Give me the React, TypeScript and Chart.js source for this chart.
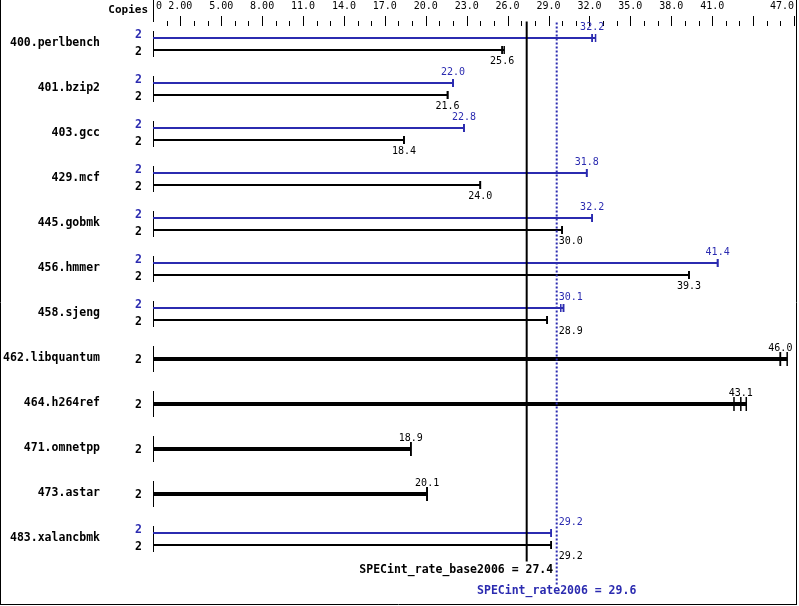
import React, { useEffect, useRef } from 'react';
import { Chart, registerables } from 'chart.js';

Chart.register(...registerables);

// ---- data ----
const benchmarks = [
  '400.perlbench', '401.bzip2', '403.gcc', '429.mcf', '445.gobmk', '456.hmmer',
  '458.sjeng', '462.libquantum', '464.h264ref', '471.omnetpp', '473.astar', '483.xalancbmk',
];
const baseCopies = [2, 2, 2, 2, 2, 2, 2, 2, 2, 2, 2, 2];
const peakCopies = [2, 2, 2, 2, 2, 2, 2, null, null, null, null, 2];
const baseRatios = [25.6, 21.6, 18.4, 24.0, 30.0, 39.3, 28.9, 46.0, 43.1, 18.9, 20.1, 29.2];
const peakRatios = [32.2, 22.0, 22.8, 31.8, 32.2, 41.4, 30.1, null, null, null, null, 29.2];
const baseRuns: number[][] = [
  [25.6, 25.6, 25.75], [21.6, 21.6, 21.6], [18.4, 18.4, 18.4], [24.0, 24.0, 24.0],
  [30.0, 30.0, 30.0], [39.3, 39.3, 39.3], [28.9, 28.9, 28.9], [46.0, 46.0, 46.5],
  [42.6, 43.1, 43.5], [18.9, 18.9, 18.9], [20.1, 20.1, 20.1], [29.2, 29.2, 29.2],
];
const peakRuns: (number[] | null)[] = [
  [32.2, 32.2, 32.45], [22.0, 22.0, 22.0], [22.8, 22.8, 22.8], [31.8, 31.8, 31.8],
  [32.2, 32.2, 32.2], [41.4, 41.4, 41.4], [29.9, 30.1, 30.1], null, null, null, null,
  [29.2, 29.2, 29.2],
];
const baseOverall = 27.4;
const peakOverall = 29.6;
const baseMetricLabel = 'SPECint_rate_base2006';
const peakMetricLabel = 'SPECint_rate2006';
const copiesTitle = 'Copies';
const axisMin = 0;
const axisMax = 47;
const axisLabelValues = [0, 2, 5, 8, 11, 14, 17, 20, 23, 26, 29, 32, 35, 38, 41, 47];
const axisLabelTexts = ['0', '2.00', '5.00', '8.00', '11.0', '14.0', '17.0', '20.0', '23.0', '26.0', '29.0', '32.0', '35.0', '38.0', '41.0', '47.0'];
const majorTickValues = [2, 5, 8, 11, 14, 17, 20, 23, 26, 29, 32, 35, 38, 41, 44, 47];

// ---- styles ----
const BLUE = '#2b2bb0';
const BLACK = '#000000';
const MONO = "'DejaVu Sans Mono', 'Liberation Mono', monospace";
const ROW_PX = 45;
const SUB = 6 / ROW_PX;

const hasPeak = (i: number) => peakRatios[i] != null;
const baseY = (i: number) => (hasPeak(i) ? i + SUB : i);
const peakY = (i: number) => i - SUB;

function buildDatasets() {
  const ds: any[] = [];
  benchmarks.forEach((_, i) => {
    const thick = !hasPeak(i);
    const yb = baseY(i);
    const bRuns = baseRuns[i];
    ds.push({
      data: [{ x: 0, y: yb }, { x: Math.max(...bRuns), y: yb }],
      showLine: true, borderColor: BLACK, borderWidth: thick ? 4 : 2,
      borderCapStyle: 'butt', pointRadius: 0,
    });
    ds.push({
      data: bRuns.map((v) => ({ x: v, y: yb })),
      showLine: false, pointStyle: 'line', pointRotation: 90,
      pointRadius: thick ? 7 : 4, pointBorderWidth: 1.5,
      pointBorderColor: BLACK, pointBackgroundColor: BLACK,
    });
    const pRuns = peakRuns[i];
    if (hasPeak(i) && pRuns) {
      const yp = peakY(i);
      ds.push({
        data: [{ x: 0, y: yp }, { x: Math.max(...pRuns), y: yp }],
        showLine: true, borderColor: BLUE, borderWidth: 2,
        borderCapStyle: 'butt', pointRadius: 0,
      });
      ds.push({
        data: pRuns.map((v) => ({ x: v, y: yp })),
        showLine: false, pointStyle: 'line', pointRotation: 90,
        pointRadius: 4, pointBorderWidth: 1.5,
        pointBorderColor: BLUE, pointBackgroundColor: BLUE,
      });
    }
  });
  return ds;
}

function line(ctx: CanvasRenderingContext2D, x1: number, y1: number, x2: number, y2: number) {
  ctx.beginPath();
  ctx.moveTo(x1, y1);
  ctx.lineTo(x2, y2);
  ctx.stroke();
}

const decor = {
  id: 'decor',
  beforeDatasetsDraw(chart: any) {
    const ctx: CanvasRenderingContext2D = chart.ctx;
    const xs = chart.scales.x;
    const ys = chart.scales.y;
    const x0 = Math.round(xs.getPixelForValue(axisMin)) + 0.5;
    ctx.save();
    ctx.strokeStyle = BLACK;
    ctx.lineWidth = 1;
    // top axis
    line(ctx, x0, 0, x0, 22);
    for (let v = Math.ceil(xs.min); v <= xs.max; v++) {
      if (v === axisMin) continue;
      const px = Math.round(xs.getPixelForValue(v)) + 0.5;
      const major = majorTickValues.includes(v);
      line(ctx, px, major ? 16 : 21, px, 26);
    }
    ctx.font = `10px ${MONO}`;
    ctx.fillStyle = BLACK;
    ctx.textBaseline = 'middle';
    axisLabelValues.forEach((v, k) => {
      const px = xs.getPixelForValue(v);
      const t = axisLabelTexts[k];
      const w = ctx.measureText(t).width;
      let left = px - w / 2;
      if (v === axisMin) left = px + 3;
      if (left + w > xs.right) left = xs.right - w;
      ctx.textAlign = 'left';
      ctx.fillText(t, left, 6);
    });
    ctx.font = `bold 11px ${MONO}`;
    ctx.textAlign = 'right';
    ctx.fillText(copiesTitle, 148, 10);
    // row axis segments
    benchmarks.forEach((_, i) => {
      const cy = ys.getPixelForValue(i);
      line(ctx, x0, cy - 13, x0, cy + 13);
    });
    // frame
    line(ctx, 0.5, 0, 0.5, 605);
    line(ctx, 796.5, 0, 796.5, 605);
    line(ctx, 0, 604.5, 797, 604.5);
    ctx.restore();
  },
  afterDatasetsDraw(chart: any) {
    const ctx: CanvasRenderingContext2D = chart.ctx;
    const xs = chart.scales.x;
    const ys = chart.scales.y;
    const area = chart.chartArea;
    const xb = xs.getPixelForValue(baseOverall);
    const xp = xs.getPixelForValue(peakOverall);
    ctx.save();
    // reference lines
    ctx.lineWidth = 2;
    ctx.strokeStyle = BLACK;
    line(ctx, xb, area.top, xb, area.bottom);
    ctx.strokeStyle = BLUE;
    ctx.setLineDash([2, 2]);
    line(ctx, xp, area.top + 1, xp, area.bottom + 23);
    ctx.setLineDash([]);

    // left labels
    ctx.textBaseline = 'middle';
    benchmarks.forEach((name, i) => {
      const cy = ys.getPixelForValue(i);
      ctx.font = `bold 11.5px ${MONO}`;
      ctx.fillStyle = BLACK;
      ctx.textAlign = 'right';
      ctx.fillText(name, 100, cy - 1);
      ctx.textAlign = 'center';
      if (hasPeak(i)) {
        ctx.fillStyle = BLUE;
        ctx.fillText(String(peakCopies[i]), 138.5, cy - 8.5);
        ctx.fillStyle = BLACK;
        ctx.fillText(String(baseCopies[i]), 138.5, cy + 8.5);
      } else {
        ctx.fillText(String(baseCopies[i]), 138.5, cy + 1);
      }
    });

    // value labels
    ctx.font = `10px ${MONO}`;
    ctx.textAlign = 'left';
    const drawVal = (v: number, y: number, color: string) => {
      const t = v.toFixed(1);
      const w = ctx.measureText(t).width;
      const px = xs.getPixelForValue(v);
      let left = px - w / 2;
      if ([xb, xp].some((r) => r > left - 2 && r < left + w + 2)) left = Math.max(xb, xp) + 2;
      ctx.fillStyle = color;
      ctx.fillText(t, left, y);
    };
    benchmarks.forEach((_, i) => {
      if (hasPeak(i)) {
        drawVal(peakRatios[i] as number, ys.getPixelForValue(peakY(i)) - 11, BLUE);
        drawVal(baseRatios[i], ys.getPixelForValue(baseY(i)) + 11, BLACK);
      } else {
        drawVal(baseRatios[i], ys.getPixelForValue(baseY(i)) - 11, BLACK);
      }
    });

    // overall labels
    ctx.font = `bold 11.5px ${MONO}`;
    ctx.fillStyle = BLACK;
    ctx.textAlign = 'right';
    ctx.fillText(`${baseMetricLabel} = ${baseOverall.toFixed(1)}`, xp - 3.5, area.bottom + 8.5);
    ctx.fillStyle = BLUE;
    ctx.textAlign = 'center';
    ctx.fillText(`${peakMetricLabel} = ${peakOverall.toFixed(1)}`, xp, area.bottom + 29.5);
    ctx.restore();
  },
};

export default function App() {
  const ref = useRef<HTMLCanvasElement>(null);
  useEffect(() => {
    document.body.style.margin = '0';
    const chart = new Chart(ref.current as HTMLCanvasElement, {
      type: 'scatter',
      data: { datasets: buildDatasets() },
      options: {
        animation: false,
        responsive: false,
        devicePixelRatio: 1,
        events: [],
        layout: { autoPadding: false, padding: { left: 153, right: 5, top: 21.5, bottom: 44.5 } },
        plugins: { legend: { display: false }, tooltip: { enabled: false } },
        scales: {
          x: { type: 'linear', min: axisMin, max: axisMax, display: false },
          y: { type: 'linear', min: -0.5, max: benchmarks.length - 0.5, reverse: true, display: false },
        },
      },
      plugins: [decor],
    });
    return () => chart.destroy();
  }, []);
  return (
    <div style={{ position: 'absolute', left: 0, top: 0, width: 799, height: 606, background: '#fff' }}>
      <canvas ref={ref} width={799} height={606} style={{ display: 'block' }} />
    </div>
  );
}
